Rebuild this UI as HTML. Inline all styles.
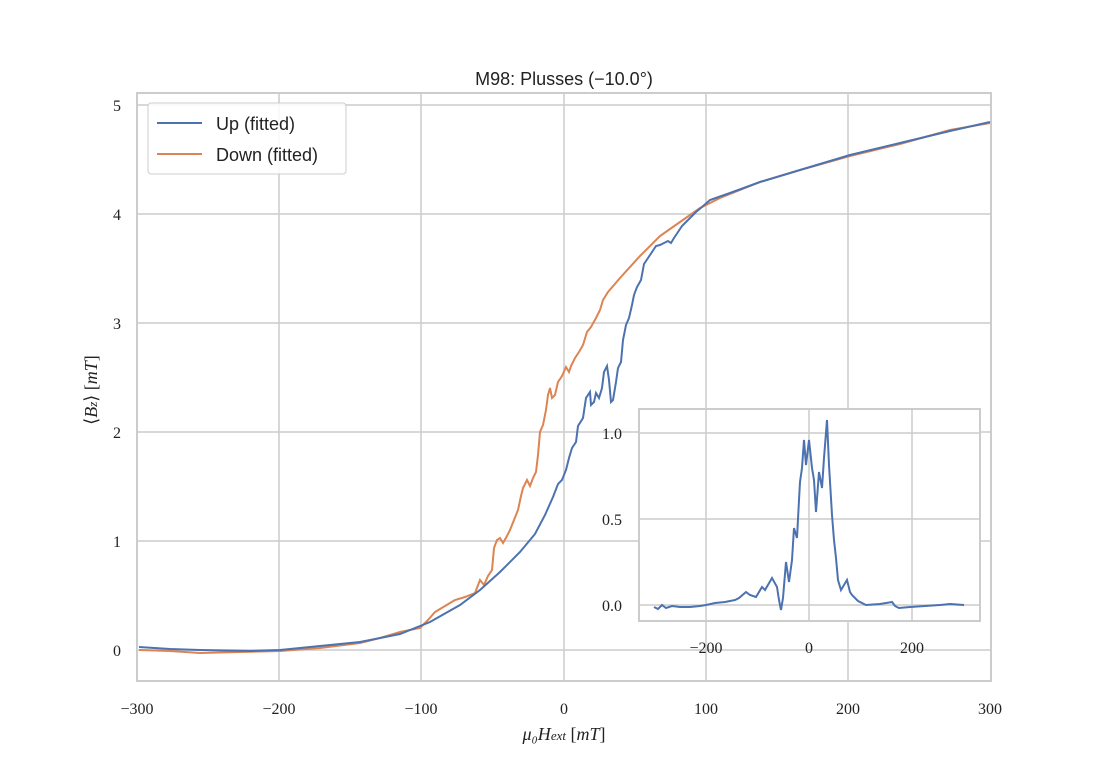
<!DOCTYPE html>
<html><head><meta charset="utf-8"><style>body{margin:0;background:#fff}svg{display:block}text{font-family:"Liberation Serif",serif;fill:#222}</style></head><body>
<svg width="1101" height="779" viewBox="0 0 1101 779" xmlns="http://www.w3.org/2000/svg">
<rect width="1101" height="779" fill="#fff"/>
<g stroke="#cccccc" stroke-width="1.5">
<line x1="279" y1="93" x2="279" y2="681"/><line x1="421" y1="93" x2="421" y2="681"/><line x1="564" y1="93" x2="564" y2="681"/><line x1="706" y1="93" x2="706" y2="681"/><line x1="848" y1="93" x2="848" y2="681"/>
<line x1="137" y1="650" x2="991" y2="650"/><line x1="137" y1="541" x2="991" y2="541"/><line x1="137" y1="432" x2="991" y2="432"/><line x1="137" y1="323" x2="991" y2="323"/><line x1="137" y1="214" x2="991" y2="214"/><line x1="137" y1="105" x2="991" y2="105"/>
</g>
<rect x="137" y="93" width="854" height="588" fill="none" stroke="#cccccc" stroke-width="2"/>
<polyline fill="none" stroke="#dd8452" stroke-width="2" points="139,650 170,651 200,653 240,652 280,651 320,648 360,643 380,638 400,632 420,628 428,620 435,612 445,606 455,600 465,597 475,593 480,580 484,585 488,576 492,570 494,548 497,540 500,538 503,543 507,536 510,530 514,520 518,510 521,496 523,488 527,480 530,486 533,478 536,472 538,455 540,432 543,425 546,410 548,395 550,388 552,398 555,395 558,382 562,376 566,367 569,372 571,366 575,358 579,352 583,345 587,332 591,327 596,318 600,310 603,300 608,292 620,278 640,256 660,236 680,222 700,208 720,198 760,182 800,170 850,156 900,144 950,130 990,123"/>
<polyline fill="none" stroke="#4c72b0" stroke-width="2" points="139,647 170,649 200,650 250,651 280,650 320,646 360,642 400,634 430,622 460,605 480,590 500,572 520,552 535,534 545,515 553,497 558,484 562,480 566,470 569,458 572,448 576,442 578,426 583,418 586,398 590,392 591,405 594,402 596,393 599,398 602,388 604,372 607,366 609,380 611,402 613,400 616,382 618,368 621,362 623,340 626,325 629,318 632,305 634,295 637,287 641,280 644,264 648,258 652,252 656,246 660,245 664,243 668,241 671,243 674,238 678,232 682,226 686,222 690,218 696,212 702,207 710,200 730,193 760,182 800,170 850,155 900,143 950,131 990,122"/>
<g font-size="16" text-anchor="middle">
<text x="137" y="714">−300</text><text x="279" y="714">−200</text><text x="421" y="714">−100</text><text x="564" y="714">0</text><text x="706" y="714">100</text><text x="848" y="714">200</text><text x="990" y="714">300</text>
</g>
<g font-size="16" text-anchor="end">
<text x="121" y="656">0</text><text x="121" y="547">1</text><text x="121" y="438">2</text><text x="121" y="329">3</text><text x="121" y="220">4</text><text x="121" y="111">5</text>
</g>
<text x="564" y="740" font-size="18" text-anchor="middle" font-style="italic">μ₀H<tspan font-size="13">ext</tspan> <tspan font-style="normal">[</tspan>mT<tspan font-style="normal">]</tspan></text>
<text transform="translate(97,390) rotate(-90)" font-size="18" text-anchor="middle">⟨<tspan font-style="italic">B</tspan><tspan font-size="13" font-style="italic">z</tspan>⟩ [<tspan font-style="italic">mT</tspan>]</text>
<text x="564" y="85" font-size="18" text-anchor="middle" style="font-family:'Liberation Sans',sans-serif">M98: Plusses (−10.0°)</text>
<rect x="148" y="103" width="198" height="71" rx="3" fill="#fff" fill-opacity="0.85" stroke="#cccccc"/>
<line x1="157" y1="123" x2="202" y2="123" stroke="#4c72b0" stroke-width="2"/>
<line x1="157" y1="154" x2="202" y2="154" stroke="#dd8452" stroke-width="2"/>
<text x="216" y="130" font-size="18" style="font-family:'Liberation Sans',sans-serif">Up (fitted)</text>
<text x="216" y="161" font-size="18" style="font-family:'Liberation Sans',sans-serif">Down (fitted)</text>
<rect x="639" y="409" width="341" height="212" fill="#fff"/>
<g stroke="#cccccc" stroke-width="1.5">
<line x1="706" y1="409" x2="706" y2="621"/><line x1="809" y1="409" x2="809" y2="621"/><line x1="912" y1="409" x2="912" y2="621"/>
<line x1="639" y1="605" x2="980" y2="605"/><line x1="639" y1="519" x2="980" y2="519"/><line x1="639" y1="433" x2="980" y2="433"/>
</g>
<rect x="639" y="409" width="341" height="212" fill="none" stroke="#cccccc" stroke-width="2"/>
<polyline fill="none" stroke="#4c72b0" stroke-width="2" points="654,607 658,609 662,605 666,608 672,606 680,607 690,607 700,606 706,605 715,603 725,602 735,600 739,598 746,592 750,595 756,597 762,587 765,590 772,578 777,587 779,600 781,610 783,598 786,562 789,582 792,560 794,528 797,538 799,500 800,482 802,468 804,440 806,465 809,440 812,468 814,480 816,512 819,472 822,488 824,458 827,420 829,465 832,515 834,540 836,558 838,580 841,590 844,585 847,580 850,592 852,595 858,601 866,605 880,604 892,602 895,606 899,608 910,607 925,606 940,605 950,604 964,605"/>
<g font-size="16" text-anchor="middle">
<text x="706" y="653">−200</text><text x="809" y="653">0</text><text x="912" y="653">200</text>
</g>
<g font-size="16" text-anchor="end">
<text x="622" y="611">0.0</text><text x="622" y="525">0.5</text><text x="622" y="439">1.0</text>
</g>
</svg>
</body></html>
